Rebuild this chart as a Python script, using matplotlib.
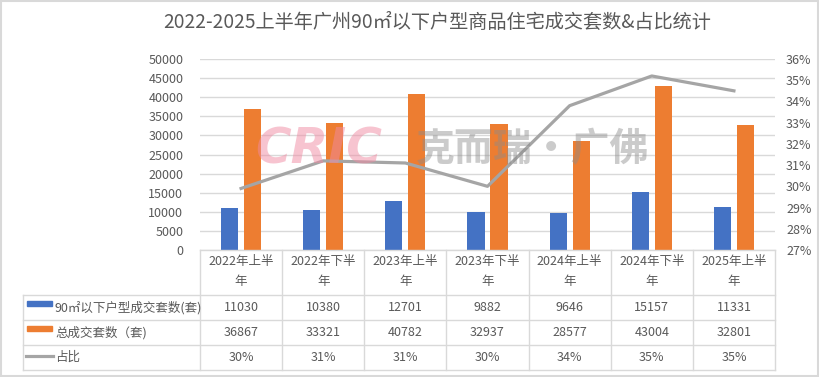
import matplotlib
matplotlib.use("Agg")
import matplotlib.pyplot as plt
import numpy as np
from matplotlib.patches import Rectangle
from matplotlib.lines import Line2D

plt.rcParams['font.family'] = ['Noto Sans CJK SC', 'DejaVu Sans']
TXT = '#595959'
GRID = '#d9d9d9'

periods = ['2022年上半\n年', '2022年下半\n年', '2023年上半\n年', '2023年下半\n年',
           '2024年上半\n年', '2024年下半\n年', '2025年上半\n年']
small_units = [11030, 10380, 12701, 9882, 9646, 15157, 11331]
total_units = [36867, 33321, 40782, 32937, 28577, 43004, 32801]
share = [29.9, 31.2, 31.1, 30.0, 33.8, 35.2, 34.5]
share_lbl = ['30%', '31%', '31%', '30%', '34%', '35%', '35%']
series_names = ['90㎡以下户型成交套数(套)', '总成交套数（套)', '占比']

W, H = 820, 377
fig = plt.figure(figsize=(W / 100, H / 100), dpi=100)

def fx(px):
    return px / W

def fy(py):
    return 1 - py / H

x0, x1, ytop, ybot = 200, 775, 59, 250
ax = fig.add_axes([fx(x0), fy(ybot), fx(x1) - fx(x0), fy(ytop) - fy(ybot)])
x = np.arange(len(periods))
ax.bar(x - 0.14, small_units, width=0.21, color='#4472C4', zorder=2)
ax.bar(x + 0.14, total_units, width=0.21, color='#ED7D31', zorder=2)
ax.set_xlim(-0.5, len(periods) - 0.5)
ax.set_ylim(0, 50000)
ax.set_yticks(range(0, 50001, 5000))
ax.yaxis.grid(True, color=GRID, lw=1)
ax.set_axisbelow(True)
ax.set_xticks([])
for s in ax.spines.values():
    s.set_visible(False)
ax.tick_params(axis='y', length=0, labelsize=9, labelcolor=TXT, pad=12)

ax2 = ax.twinx()
ax2.plot(x, share, color='#A5A5A5', lw=2.3, zorder=3)
ax2.set_ylim(27, 36)
ax2.set_yticks(range(27, 37))
ax2.set_yticklabels([f'{v}%' for v in range(27, 37)])
for s in ax2.spines.values():
    s.set_visible(False)
ax2.tick_params(axis='y', length=0, labelsize=9, labelcolor=TXT, pad=8)

fig.text(fx(437), fy(22), '2022-2025上半年广州90㎡以下户型商品住宅成交套数&占比统计',
         ha='center', va='center', fontsize=13.8, color=TXT)

# watermark
fig.text(fx(255), fy(150), 'CRIC', fontsize=35, fontweight='bold', style='italic',
         color='#f08aa2', alpha=0.5, va='center', ha='left', family='DejaVu Sans')
fig.text(fx(416), fy(150), '克而瑞·广佛', fontsize=28, fontweight='bold', color='#8c8c8c',
         alpha=0.45, va='center', ha='left')

# data table
colw = (x1 - x0) / len(periods)
rows_y = [250, 295, 320, 345, 370]
tl = dict(color=GRID, lw=1, transform=fig.transFigure)
fig.add_artist(Line2D([fx(x0), fx(x1)], [fy(250), fy(250)], **tl))
for yy in rows_y[1:]:
    fig.add_artist(Line2D([fx(23), fx(x1)], [fy(yy), fy(yy)], **tl))
for k in range(len(periods) + 1):
    xx = x0 + k * colw
    fig.add_artist(Line2D([fx(xx), fx(xx)], [fy(250), fy(370)], **tl))
fig.add_artist(Line2D([fx(23), fx(23)], [fy(295), fy(370)], **tl))

for i, p in enumerate(periods):
    cx = fx(x0 + (i + 0.5) * colw)
    fig.text(cx, fy(272), p, ha='center', va='center', fontsize=9, color=TXT, linespacing=1.7)
    fig.text(cx, fy(307.5), str(small_units[i]), ha='center', va='center', fontsize=9, color=TXT)
    fig.text(cx, fy(332.5), str(total_units[i]), ha='center', va='center', fontsize=9, color=TXT)
    fig.text(cx, fy(357.5), share_lbl[i], ha='center', va='center', fontsize=9, color=TXT)

fig.add_artist(Rectangle((fx(27), fy(306)), fx(25), fy(301) - fy(306), color='#4472C4',
                         transform=fig.transFigure))
fig.add_artist(Rectangle((fx(27), fy(331)), fx(25), fy(326) - fy(331), color='#ED7D31',
                         transform=fig.transFigure))
fig.add_artist(Line2D([fx(26), fx(53)], [fy(356), fy(356)], color='#A5A5A5', lw=2.3,
                      transform=fig.transFigure))
for yy, name in zip([307.5, 332.5, 357.5], series_names):
    fig.text(fx(55), fy(yy), name, ha='left', va='center', fontsize=9, color=TXT)

# outer border
fig.add_artist(Rectangle((0.001, 0.002), 0.997, 0.995, fill=False, ec=GRID, lw=1.5,
                         transform=fig.transFigure))

fig.savefig('out.png', dpi=100)
